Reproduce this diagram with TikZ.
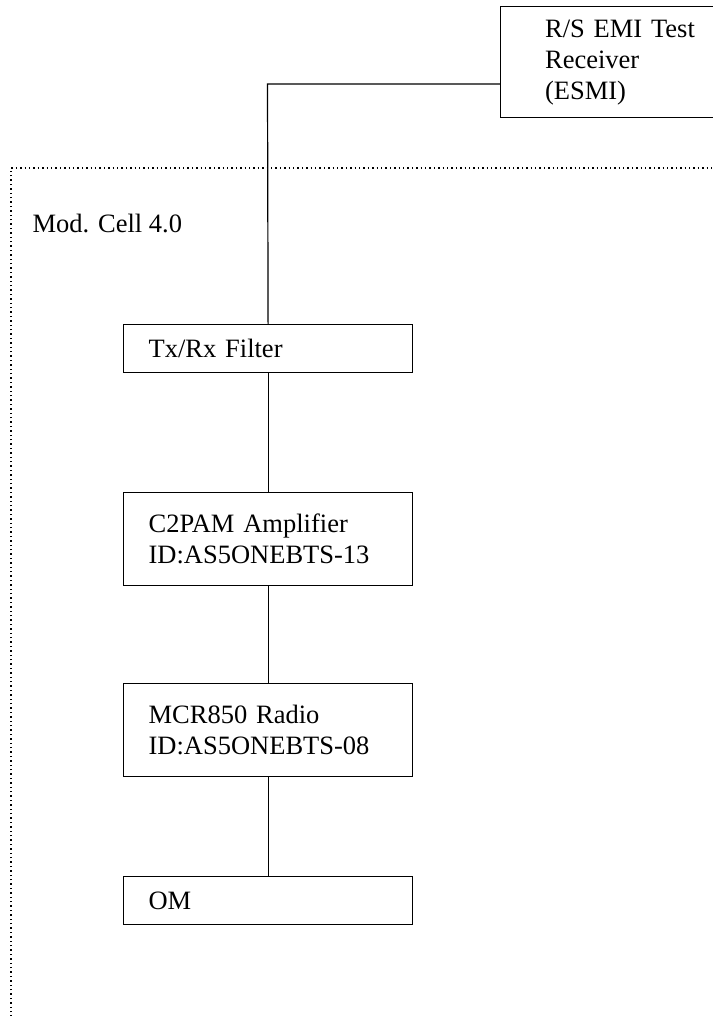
\documentclass[tikz,border=0pt]{standalone}
\usepackage{fontspec}
\setmainfont{Liberation Serif}
\begin{document}
\begin{tikzpicture}[x=1pt,y=-1pt,line width=1.2pt,
  unit/.style={draw,anchor=north west,minimum width=289pt,text width=239pt,
    inner xsep=25pt,inner ysep=0pt,align=left,font=\fontsize{26.5}{31}\selectfont},
  cellframe/.style={line width=1.4pt,dash pattern=on 1.4pt off 3pt}]
\useasboundingbox (0,0) rectangle (712,1016);
% cell boundary
\draw[cellframe](11,1030)|-(730,168);
\node[anchor=base west,inner sep=0pt,font=\fontsize{26.5}{31}\selectfont] (cell) at (32,233) {Mod. Cell 4.0};
% units
\node[unit,text width=200pt,inner xsep=22pt,minimum height=111pt] (esmi) at (500,6) {R/S EMI Test\\Receiver\\(ESMI)};
\node[unit,minimum height=48pt] (txrx) at (123,324) {Tx/Rx Filter};
\node[unit,minimum height=93pt] (c2pam) at (123,492) {C2PAM Amplifier\\ID:AS5ONEBTS-13};
\node[unit,minimum height=93pt] (mcr) at (123,683) {MCR850 Radio\\ID:AS5ONEBTS-08};
\node[unit,minimum height=48pt] (om) at (123,876) {OM};
% wiring
\coordinate (tap) at (267.5,84);
\draw(txrx.north)--(tap)--(tap-|esmi.west);
\draw(txrx)--(c2pam);
\draw(c2pam)--(mcr);
\draw(mcr)--(om);
\end{tikzpicture}
\end{document}
